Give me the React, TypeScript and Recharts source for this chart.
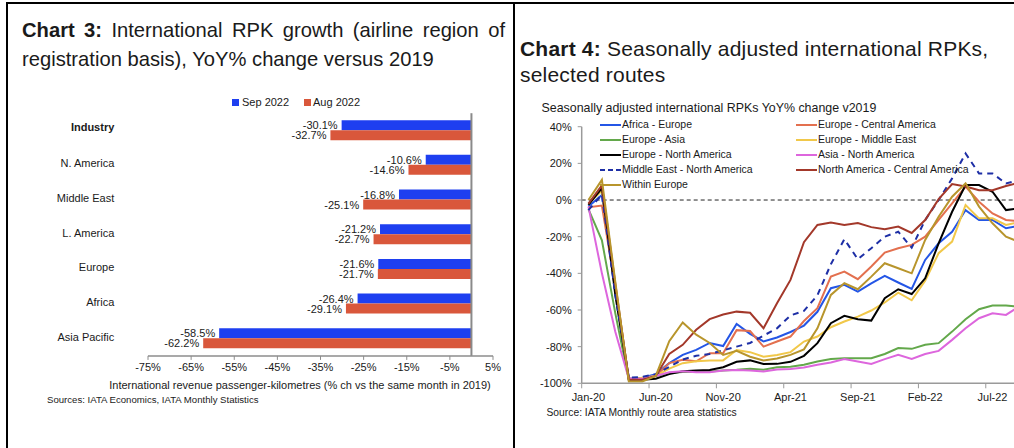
import React from 'react';
import { BarChart, Bar, XAxis, YAxis, ReferenceLine, LabelList, LineChart, Line } from 'recharts';

// ---------- Chart 3 data ----------
const regions = ['Industry', 'N. America', 'Middle East', 'L. America', 'Europe', 'Africa', 'Asia Pacific'];
const sep2022 = [-30.1, -10.6, -16.8, -21.2, -21.6, -26.4, -58.5];
const aug2022 = [-32.7, -14.6, -25.1, -22.7, -21.7, -29.1, -62.2];
const barTicks = [-75, -65, -55, -45, -35, -25, -15, -5, 5];

// ---------- Chart 4 data ----------
const months = [
  'Jan-20', 'Feb-20', 'Mar-20', 'Apr-20', 'May-20', 'Jun-20', 'Jul-20', 'Aug-20', 'Sep-20', 'Oct-20', 'Nov-20', 'Dec-20',
  'Jan-21', 'Feb-21', 'Mar-21', 'Apr-21', 'May-21', 'Jun-21', 'Jul-21', 'Aug-21', 'Sep-21', 'Oct-21', 'Nov-21', 'Dec-21',
  'Jan-22', 'Feb-22', 'Mar-22', 'Apr-22', 'May-22', 'Jun-22', 'Jul-22', 'Aug-22', 'Sep-22',
];
const monthTickLabels = ['Jan-20', 'Jun-20', 'Nov-20', 'Apr-21', 'Sep-21', 'Feb-22', 'Jul-22'];
const yTicks4 = [-100, -80, -60, -40, -20, 0, 20, 40];

const africaEurope = [-3.6, 2.7, -50, -97.5, -97, -95, -89, -84.5, -81.8, -78, -79.7, -67.6, -73, -77.2, -75, -72, -68.5, -61, -48.1, -46.3, -50, -45.5, -41.4, -45, -48.5, -32.7, -23.6, -17.3, -5.5, -10.9, -10.9, -15.4, -14];
const europeCentralAmerica = [-4, -3, -48, -97.5, -97.5, -96, -89, -87.2, -88, -83.6, -83.6, -71, -71.5, -80, -77.2, -74.5, -66, -59, -41.8, -39.1, -43.2, -36.3, -28.7, -26.3, -24.5, -20, -10.9, -1.8, 7.3, -0.9, -7.3, -10.9, -11.5];
const europeAsia = [-5, -22, -62, -98, -97.5, -96, -94.4, -93.8, -93.8, -93.6, -93, -92.6, -92, -92.6, -91.3, -91, -89.9, -88.1, -86.8, -86.3, -86.3, -86.3, -84, -80.8, -81.2, -79, -78.1, -71.8, -65, -59.6, -57.6, -57.6, -58.2];
const europeMiddleEast = [-2, 5, -50, -98, -97, -96, -92, -89, -88, -87.5, -87.5, -81.8, -83, -85.5, -84.5, -83, -77.2, -74.5, -69.4, -66.3, -63.6, -60.3, -55.9, -50.5, -54.7, -44, -29, -22.7, -2.7, -10, -10, -13.6, -12];
const europeNorthAmerica = [-2.7, 6.5, -52, -98, -98, -97.5, -95, -93.4, -93, -92.7, -91.2, -88.3, -87.5, -89.5, -89.4, -88.3, -85, -78.1, -67.2, -63.2, -65, -65.8, -53.6, -48.7, -51.3, -42.7, -23.6, -6.4, 8.2, 8.2, 4.5, -5.5, -4.5];
const asiaNorthAmerica = [-3.6, -40, -72, -97.5, -97.5, -96, -94, -93.4, -94, -94, -93, -92.7, -93, -93.5, -92.5, -92.2, -91.4, -89.9, -88.7, -86.8, -88.1, -89.4, -86.8, -84.5, -86.7, -84, -82.3, -76.3, -70, -64.5, -61.8, -62.7, -58];
const middleEastNorthAmerica = [-5.5, 3, -52, -97, -96.5, -95, -91, -87, -85, -84, -82, -80, -78, -74, -70, -63, -60.5, -52, -35, -21.4, -32.3, -26.3, -20, -17.3, -26, -10.9, 0, 11.8, 25.4, 14.5, 14.5, 9, 11];
const northAmericaCentralAmerica = [-2, 8, -46, -98, -98, -96, -84, -79, -70.8, -65, -62.5, -60.9, -61.5, -70, -56.3, -43.6, -23, -13.6, -12.3, -13.6, -12.6, -14.8, -15.9, -14.5, -18, -10.9, 0.5, 8.7, 7.4, 5.3, 5.3, 7.6, 9.5];
const withinEurope = [0, 11, -45, -99, -99, -96, -77, -66.8, -73.5, -78, -84.5, -82.3, -85.5, -87.5, -86.5, -84.5, -81.5, -70, -51.8, -45.4, -48.7, -41.8, -34.5, -37.2, -40, -21.8, -9.1, 1.8, 9.1, -3.6, -12.7, -20, -23];

const seriesDefs = [
  { key: 'africaEurope', name: 'Africa - Europe', values: africaEurope, color: '#2456e6', dash: undefined },
  { key: 'europeCentralAmerica', name: 'Europe - Central America', values: europeCentralAmerica, color: '#e3704f', dash: undefined },
  { key: 'europeAsia', name: 'Europe - Asia', values: europeAsia, color: '#63a84b', dash: undefined },
  { key: 'europeMiddleEast', name: 'Europe - Middle East', values: europeMiddleEast, color: '#f1c84a', dash: undefined },
  { key: 'europeNorthAmerica', name: 'Europe - North America', values: europeNorthAmerica, color: '#000000', dash: undefined },
  { key: 'asiaNorthAmerica', name: 'Asia - North America', values: asiaNorthAmerica, color: '#dd66dd', dash: undefined },
  { key: 'middleEastNorthAmerica', name: 'Middle East - North America', values: middleEastNorthAmerica, color: '#1e2fa6', dash: '6 5' },
  { key: 'northAmericaCentralAmerica', name: 'North America - Central America', values: northAmericaCentralAmerica, color: '#a3382a', dash: undefined },
  { key: 'withinEurope', name: 'Within Europe', values: withinEurope, color: '#b8952c', dash: undefined },
];

const barData = regions.map((r, i) => ({ region: r, sep: sep2022[i], aug: aug2022[i] }));
const lineData = months.map((m, i) => {
  const row: any = { i, month: m };
  seriesDefs.forEach((s) => { row[s.key] = s.values[i]; });
  return row;
});
const monthTickIdx = monthTickLabels.map((l) => months.indexOf(l));

const FONT = '"Liberation Sans", Arial, Helvetica, sans-serif';
const TXT = '#1a1a1a';

// chart 4 geometry
const C4_YAXIS_W = 66.7;
const C4_W = 511.2;
const C4_PLOT_W = C4_W - C4_YAXIS_W;
const C4_TICK = 5;
const C4_TICK_M = 5;

const valueLabel = (props: any) => {
  const vb = props.viewBox || {};
  const x = Number(props.x ?? vb.x);
  const y = Number(props.y ?? vb.y);
  const w = Number(props.width ?? vb.width);
  const h = Number(props.height ?? vb.height);
  const left = Math.min(x, x + w);
  return (
    <text x={left - 4} y={y + h / 2} textAnchor="end" dominantBaseline="central" fontSize={11} fill={TXT} fontFamily={FONT}>
      {Number(props.value).toFixed(1)}%
    </text>
  );
};

const RegionTick = (props: any) => {
  const { y, payload } = props;
  const bold = payload.value === 'Industry';
  return (
    <text x={114.3} y={y} dy={bold ? -4 : -2} textAnchor="end" dominantBaseline="central" fontSize={11}
      fontWeight={bold ? 700 : 400} fill={TXT} fontFamily={FONT}>
      {payload.value}
    </text>
  );
};

const MonthTick = (props: any) => {
  const { x, y, payload } = props;
  const half = C4_PLOT_W / months.length / 2;
  const axisY = y - C4_TICK - C4_TICK_M;
  return (
    <g>
      <line x1={x - half} x2={x - half} y1={axisY} y2={axisY + C4_TICK} stroke="#9a9a9a" strokeWidth={1} />
      <text x={x} y={y} dy="0.71em" textAnchor="middle" fontSize={11} fill={TXT} fontFamily={FONT}>
        {months[payload.value]}
      </text>
    </g>
  );
};

const abs = (left: number, top: number, extra: React.CSSProperties = {}): React.CSSProperties => ({
  position: 'absolute', left, top, ...extra,
});

const LegendSwatch = ({ color, dash }: { color: string; dash?: string }) => (
  <svg width={21} height={6} style={{ display: 'inline-block', verticalAlign: 'middle', marginRight: 1 }}>
    <line x1={0} x2={21} y1={3} y2={3} stroke={color} strokeWidth={2} strokeDasharray={dash ? '5 3' : undefined} />
  </svg>
);

export default function App() {
  const leftCol = [seriesDefs[0], seriesDefs[2], seriesDefs[4], seriesDefs[6], seriesDefs[8]];
  const rightCol = [seriesDefs[1], seriesDefs[3], seriesDefs[5], seriesDefs[7]];
  return (
    <div style={{ position: 'fixed', left: 0, top: 0, width: 1014, height: 448, overflow: 'hidden', background: '#fff', fontFamily: FONT, color: TXT }}>
      {/* frame */}
      <div style={abs(6, 2, { width: 1010, height: 2, background: '#000' })} />
      <div style={abs(6, 2, { width: 2, height: 446, background: '#000' })} />
      <div style={abs(513, 2, { width: 2, height: 446, background: '#000' })} />

      {/* Chart 3 title */}
      <div style={abs(22, 16, { width: 483, fontSize: 20.2, lineHeight: '29px', textAlign: 'justify', textAlignLast: 'justify', whiteSpace: 'nowrap' })}>
        <b>Chart 3:</b> International RPK growth (airline region of
      </div>
      <div style={abs(22, 45, { fontSize: 20.2, lineHeight: '29px', whiteSpace: 'nowrap' })}>
        registration basis), YoY% change versus 2019
      </div>

      {/* Chart 3 legend */}
      <div style={abs(232, 99, { width: 7, height: 7, background: '#1e3ff0' })} />
      <div style={abs(242, 95, { fontSize: 11, lineHeight: '14px', whiteSpace: 'nowrap' })}>Sep 2022</div>
      <div style={abs(304, 99, { width: 7, height: 7, background: '#d9573b' })} />
      <div style={abs(313, 95, { fontSize: 11, lineHeight: '14px', whiteSpace: 'nowrap' })}>Aug 2022</div>

      {/* Chart 3 */}
      <div style={abs(0, 100)}>
        <BarChart width={515} height={290} data={barData} layout="vertical" barGap={0}
          margin={{ top: 13.2, right: 22, bottom: 0, left: 0 }}>
          <XAxis type="number" domain={[-75, 5]} ticks={barTicks} allowDataOverflow height={34.1}
            tickFormatter={(v: number) => `${v}%`} tickSize={4} tickMargin={3}
            axisLine={{ stroke: '#8c8c8c', strokeWidth: 1.5 }} tickLine={{ stroke: '#8c8c8c' }}
            tick={{ fontSize: 11, fill: TXT, fontFamily: FONT }} />
          <YAxis type="category" dataKey="region" width={148} axisLine={false} tickLine={false} tick={<RegionTick />} />
          <ReferenceLine x={0} stroke="#8a8a8a" strokeWidth={2} />
          <Bar dataKey="sep" name="Sep 2022" fill="#1e3ff0" barSize={10} isAnimationActive={false}>
            <LabelList dataKey="sep" content={valueLabel} />
          </Bar>
          <Bar dataKey="aug" name="Aug 2022" fill="#d9573b" barSize={10} isAnimationActive={false}>
            <LabelList dataKey="aug" content={valueLabel} />
          </Bar>
        </BarChart>
      </div>
      <div style={abs(100, 378, { width: 400, fontSize: 11, lineHeight: '14px', textAlign: 'center', whiteSpace: 'nowrap' })}>
        International revenue passenger-kilometres (% ch vs the same month in 2019)
      </div>
      <div style={abs(47, 394, { fontSize: 9.6, lineHeight: '12px', whiteSpace: 'nowrap' })}>
        Sources: IATA Economics, IATA Monthly Statistics
      </div>

      {/* Chart 4 title */}
      <div style={abs(520, 36, { fontSize: 21, lineHeight: '26px', letterSpacing: 0.2, whiteSpace: 'nowrap' })}>
        <b>Chart 4:</b> Seasonally adjusted international RPKs,
      </div>
      <div style={abs(520, 62, { fontSize: 21, lineHeight: '26px', letterSpacing: 0.2, whiteSpace: 'nowrap' })}>
        selected routes
      </div>
      <div style={abs(541.5, 100, { fontSize: 12.4, lineHeight: '16px', whiteSpace: 'nowrap' })}>
        Seasonally adjusted international RPKs YoY% change v2019
      </div>

      {/* Chart 4 */}
      <div style={abs(515, 100)}>
        <LineChart width={C4_W} height={320} data={lineData} margin={{ top: 26.7, right: 0, bottom: 6.7, left: 0 }}>
          <XAxis dataKey="i" type="number" domain={[-0.5, months.length - 0.5]} ticks={monthTickIdx} allowDataOverflow
            height={30} tickSize={C4_TICK} tickMargin={C4_TICK_M} tickLine={false}
            axisLine={{ stroke: '#9a9a9a', strokeWidth: 1.5 }} tick={<MonthTick />} interval={0} />
          <YAxis type="number" domain={[-100, 40]} ticks={yTicks4} width={C4_YAXIS_W} allowDataOverflow
            tickFormatter={(v: number) => `${v}%`} tickSize={4} tickMargin={6}
            axisLine={{ stroke: '#9a9a9a', strokeWidth: 1.5 }} tickLine={{ stroke: '#9a9a9a' }}
            tick={{ fontSize: 11, fill: TXT, fontFamily: FONT }} />
          <ReferenceLine y={0} stroke="#222" strokeWidth={1} strokeDasharray="4 3" />
          {seriesDefs.map((s) => (
            <Line key={s.key} type="linear" dataKey={s.key} name={s.name} stroke={s.color} strokeWidth={2}
              strokeDasharray={s.dash} dot={false} isAnimationActive={false} />
          ))}
        </LineChart>
      </div>

      {/* Chart 4 legend */}
      {leftCol.map((s, k) => (
        <div key={s.key} style={abs(600, 117 + k * 15, { fontSize: 10.5, lineHeight: '14px', whiteSpace: 'nowrap' })}>
          <LegendSwatch color={s.color} dash={s.dash} />{s.name}
        </div>
      ))}
      {rightCol.map((s, k) => (
        <div key={s.key} style={abs(796, 117 + k * 15, { fontSize: 10.5, lineHeight: '14px', whiteSpace: 'nowrap' })}>
          <LegendSwatch color={s.color} dash={s.dash} />{s.name}
        </div>
      ))}
      <div style={abs(546.5, 406, { fontSize: 10.3, lineHeight: '14px', whiteSpace: 'nowrap' })}>
        Source: IATA Monthly route area statistics
      </div>
    </div>
  );
}
